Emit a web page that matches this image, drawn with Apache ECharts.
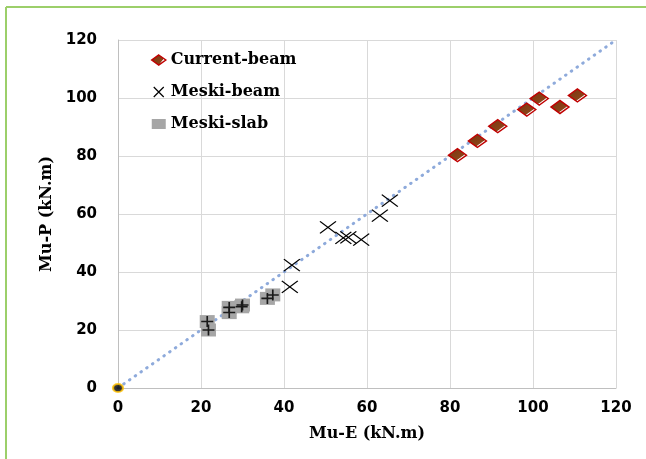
<!DOCTYPE html>
<html><head><meta charset="utf-8">
<script src="https://cdn.jsdelivr.net/npm/echarts@6/dist/echarts.min.js"></script>
<style>html,body{margin:0;padding:0;background:#fff}#c{width:646px;height:459px}</style>
</head><body><div id="c"></div>
<script>
const xTicks = [0, 20, 40, 60, 80, 100, 120];
const yTicks = [0, 20, 40, 60, 80, 100, 120];
const currentBeamX = [81.8, 86.6, 91.5, 98.5, 101.5, 106.5, 110.7];
const currentBeamY = [80.3, 85.2, 90.3, 96.0, 99.8, 96.9, 100.9];
const meskiBeamX = [41.9, 41.4, 50.6, 54.3, 55.5, 58.6, 63.1, 65.5];
const meskiBeamY = [42.4, 34.9, 55.4, 51.8, 51.9, 51.2, 59.4, 64.6];
const meskiSlabX = [21.5, 21.8, 26.8, 26.8, 30.0, 29.8, 36.0, 37.3];
const meskiSlabY = [22.9, 20.0, 26.0, 27.8, 28.6, 28.0, 30.9, 32.1];
const lineX = [0, 120];
const lineY = [0, 120];
const originX = [0];
const originY = [0];

const zip = (a, b) => a.map((v, i) => [v, b[i]]);
const serif = 'DejaVu Serif';
const sans = 'DejaVu Sans';
const xPath = 'path://M0,0L10,10M10,0L0,10';
const plusPath = 'path://M0,5L10,5M5,0L5,10';
const diamondFill = {type:'linear',x:0,y:0,x2:1,y2:1,colorStops:[{offset:0,color:'#7a3410'},{offset:0.64,color:'#8a4418'},{offset:0.68,color:'#ffffff'},{offset:1,color:'#ffffff'}]};

const chart = echarts.init(document.getElementById('c'), null, {renderer:'canvas'});
chart.setOption({
  animation:false,
  backgroundColor:'#ffffff',
  graphic:[
    {type:'line', shape:{x1:6,y1:7,x2:646,y2:7}, style:{stroke:'#9ccf6a', lineWidth:2}},
    {type:'line', shape:{x1:6,y1:7,x2:6,y2:459}, style:{stroke:'#9ccf6a', lineWidth:2}}
  ],
  grid:{left:118, right:30, top:40, bottom:71},
  legend:{
    orient:'vertical', left:146, top:47, itemGap:16, itemWidth:14, itemHeight:10,
    textStyle:{fontFamily:serif, fontWeight:'bold', fontSize:16, color:'#000'},
    data:[
      {name:'Current-beam', icon:'diamond', itemStyle:{color:diamondFill, borderColor:'#c00000', borderWidth:1.5}},
      {name:'Meski-beam', icon:xPath, itemStyle:{color:'transparent', borderColor:'#000', borderWidth:1.2}},
      {name:'Meski-slab', icon:'rect', itemStyle:{color:'#a6a6a6', borderColor:'#a6a6a6', borderWidth:0}}
    ]
  },
  xAxis:{
    type:'value', min:0, max:120, interval:20,
    name:'Mu-E (kN.m)', nameLocation:'middle', nameGap:38,
    nameTextStyle:{fontFamily:serif, fontWeight:'bold', fontSize:16, color:'#000'},
    axisLine:{show:true, lineStyle:{color:'#bfbfbf', width:1}},
    axisTick:{show:false},
    axisLabel:{margin:13, fontFamily:sans, fontWeight:'bold', fontSize:15, color:'#000',
      formatter:v => xTicks.includes(v) ? String(v) : ''},
    splitLine:{show:true, lineStyle:{color:'#d9d9d9', width:1}}
  },
  yAxis:{
    type:'value', min:0, max:120, interval:20,
    name:'Mu-P (kN.m)', nameLocation:'middle', nameGap:62, nameRotate:90,
    nameTextStyle:{fontFamily:serif, fontWeight:'bold', fontSize:16, color:'#000'},
    axisLine:{show:true, lineStyle:{color:'#bfbfbf', width:1}},
    axisTick:{show:false},
    axisLabel:{margin:21, fontFamily:sans, fontWeight:'bold', fontSize:15, color:'#000',
      formatter:v => yTicks.includes(v) ? String(v) : ''},
    splitLine:{show:true, lineStyle:{color:'#d9d9d9', width:1}}
  },
  series:[
    {name:'Equality', type:'line', data:zip(lineX, lineY), showSymbol:false, silent:true,
      lineStyle:{color:'#8eaadb', width:3, type:[0.5, 6.5], cap:'round'}, z:1},
    {name:'Origin', type:'scatter', data:zip(originX, originY), symbol:'circle', symbolSize:[10,8],
      itemStyle:{color:'#000', borderColor:'#ffc000', borderWidth:2}, z:5},
    {name:'Current-beam', type:'scatter', data:zip(currentBeamX, currentBeamY), symbol:'diamond', symbolSize:[18,13],
      itemStyle:{color:diamondFill, borderColor:'#c00000', borderWidth:1.5, opacity:1}, z:4},
    {name:'Meski-beam', type:'scatter', data:zip(meskiBeamX, meskiBeamY), symbol:xPath, symbolSize:[16,12],
      itemStyle:{color:'transparent', borderColor:'#000', borderWidth:1.2, opacity:1}, z:4},
    {name:'Meski-slab', type:'scatter', data:zip(meskiSlabX, meskiSlabY), symbol:'rect', symbolSize:[15,13],
      itemStyle:{color:'#a6a6a6', opacity:1}, z:3},
    {name:'Meski-slab-plus', type:'scatter', data:zip(meskiSlabX, meskiSlabY), symbol:plusPath, symbolSize:[12,11],
      itemStyle:{color:'transparent', borderColor:'#1a1a1a', borderWidth:1.6, opacity:1}, z:4}
  ]
});
</script></body></html>
